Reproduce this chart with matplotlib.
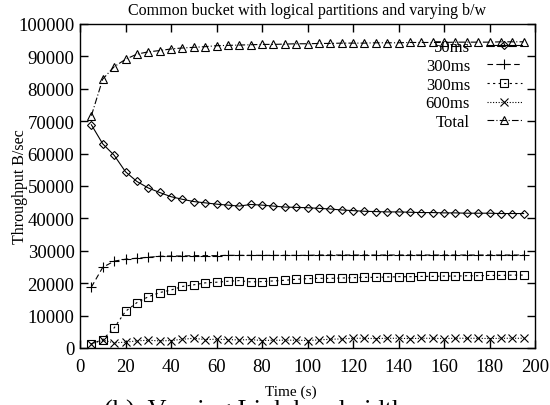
import matplotlib
matplotlib.use("Agg")
import matplotlib.pyplot as plt

# Time axis (s)
time_s = list(range(5, 200, 5))

# Throughput series (B/sec)
thr_50ms = [68900, 63000, 59500, 54400, 51400, 49400, 48000, 46700, 45900, 45200,
            44800, 44400, 44100, 43800, 44300, 44100, 43800, 43500, 43400, 43300,
            43100, 42900, 42600, 42400, 42200, 42100, 42000, 42000, 41900, 41800,
            41800, 41700, 41700, 41600, 41600, 41600, 41500, 41500, 41500]
thr_300ms_a = [18800, 24900, 26800, 27400, 27700, 28000, 28300, 28400, 28400, 28500,
               28500, 28500, 28600, 28600, 28600, 28600, 28600, 28600, 28600, 28600,
               28700, 28700, 28700, 28700, 28700, 28700, 28700, 28700, 28700, 28700,
               28700, 28700, 28700, 28700, 28700, 28700, 28700, 28700, 28700]
thr_300ms_b = [1300, 2600, 6200, 11300, 14000, 15800, 17100, 17900, 19000, 19500,
               20100, 20300, 20600, 20800, 20400, 20500, 20700, 20900, 21200, 21400,
               21500, 21500, 21600, 21700, 21800, 21800, 21900, 22000, 22000, 22100,
               22100, 22200, 22200, 22300, 22300, 22400, 22400, 22500, 22500]
thr_600ms = [1300, 2400, 1600, 1800, 2200, 2400, 2200, 2300, 2700, 3000,
             2600, 2700, 2600, 2500, 2600, 2300, 2400, 2400, 2400, 2300,
             2500, 2700, 2800, 3000, 3000, 2900, 3000, 3000, 2900, 3000,
             3000, 2900, 3000, 3000, 3000, 2900, 3000, 3000, 3000]
thr_total = [71700, 83000, 86800, 89100, 90700, 91400, 91800, 92300, 92600, 92800,
             93000, 93300, 93400, 93500, 93600, 93700, 93700, 93800, 93900, 93900,
             94000, 94000, 94100, 94100, 94100, 94200, 94200, 94200, 94300, 94300,
             94300, 94300, 94400, 94400, 94400, 94400, 94500, 94500, 94500]

labels = ["50ms", "300ms", "300ms", "600ms", "Total"]

plt.rcParams["font.family"] = ["Liberation Serif", "DejaVu Serif"]

fig = plt.figure(figsize=(5.5, 4.06), dpi=100)
ax = fig.add_axes([80 / 550, 1 - 349 / 406, 455 / 550, 324 / 406])

lw = 0.8
ms = 5.5
ax.plot(time_s, thr_50ms, color="black", lw=lw, ls="-", marker="D", ms=4.5,
        mfc="none", mec="black", mew=lw, label=labels[0])
ax.plot(time_s, thr_300ms_a, color="black", lw=lw, ls=(0, (5, 3)), marker="+", ms=7,
        mew=lw, label=labels[1])
ax.plot(time_s, thr_300ms_b, color="black", lw=lw, ls=(0, (2, 3)), marker="s", ms=ms,
        mfc="none", mec="black", mew=lw, label=labels[2])
ax.plot(time_s, thr_600ms, color="black", lw=lw, ls=(0, (1, 1.5)), marker="x", ms=ms,
        mew=lw, label=labels[3])
ax.plot(time_s, thr_total, color="black", lw=lw, ls=(0, (6, 2, 1, 2)), marker="^", ms=ms,
        mfc="none", mec="black", mew=lw, label=labels[4])

ax.set_xlim(0, 200)
ax.set_ylim(0, 100000)
ax.set_xticks(range(0, 201, 20))
ax.set_yticks(range(0, 100001, 10000))
ax.tick_params(direction="in", length=6, width=1, top=True, right=True, labelsize=13.5)
ax.tick_params(axis="y", pad=4)
ax.tick_params(axis="x", pad=7)
for s in ax.spines.values():
    s.set_linewidth(1)

ax.legend(loc="upper right", frameon=False, markerfirst=False, fontsize=12,
          handlelength=2.1, handletextpad=1.0, labelspacing=0.17,
          borderaxespad=0.4, bbox_to_anchor=(1.0, 0.995))

ax.set_title("Common bucket with logical partitions and varying b/w", fontsize=11.5, pad=7)
fig.text(20 / 550, 1 - 187 / 406, "Throughput B/sec", rotation=90, ha="center", va="center",
         fontsize=11.5)
fig.text(291 / 550, 1 - 392 / 406, "Time (s)", ha="center", va="center", fontsize=11)
fig.text(255 / 550, 1 - 400 / 406, "(b)  Varying Link bandwidth", ha="center", va="top",
         fontsize=19)

fig.savefig("out.png", dpi=100)
